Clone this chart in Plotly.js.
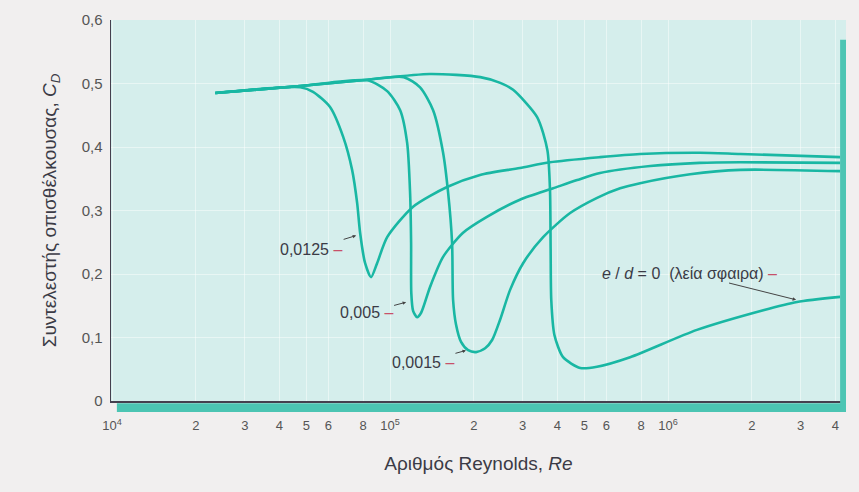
<!DOCTYPE html>
<html>
<head>
<meta charset="utf-8">
<script src="https://cdn.plot.ly/plotly-3.0.1.min.js"></script>
<style>
  html, body { margin: 0; padding: 0; background: #f1efef; }
  #chart { width: 859px; height: 492px; }
</style>
</head>
<body>
<div id="chart"></div>
<script>
// ---- data ----
const reSmooth = [23500, 47500, 82700, 139000, 211000, 249000, 277000, 338000, 368000, 376000, 378000, 380000, 390000, 419000, 483000, 555000, 730000, 1270000, 2200000, 2910000, 4160000];
const cdSmooth = [0.485, 0.496, 0.506, 0.515, 0.510, 0.501, 0.490, 0.447, 0.395, 0.332, 0.238, 0.159, 0.104, 0.069, 0.052, 0.054, 0.069, 0.112, 0.143, 0.156, 0.164];

const re0125 = [23500, 47500, 52800, 60800, 67800, 73000, 76100, 78000, 81300, 85400, 89800, 97600, 121000, 160300, 210700, 293000, 376000, 569000, 793000, 1300000, 1820000, 4160000];
const cd0125 = [0.485, 0.494, 0.487, 0.463, 0.416, 0.364, 0.312, 0.265, 0.217, 0.195, 0.217, 0.258, 0.306, 0.337, 0.356, 0.367, 0.376, 0.384, 0.389, 0.391, 0.389, 0.384];

const re005 = [23500, 47500, 82700, 97600, 108700, 115200, 118000, 119000, 119200, 121000, 125100, 129300, 139300, 155100, 183000, 223000, 293000, 386000, 471000, 569000, 862000, 1300000, 1820000, 4160000];
const cd005 = [0.485, 0.496, 0.505, 0.488, 0.458, 0.406, 0.328, 0.249, 0.170, 0.142, 0.132, 0.139, 0.180, 0.227, 0.265, 0.290, 0.317, 0.335, 0.348, 0.359, 0.370, 0.375, 0.376, 0.375];

const re0015 = [23500, 47500, 82700, 112000, 128200, 142800, 155100, 161700, 167100, 168500, 172700, 180000, 190800, 203900, 219700, 232800, 248700, 270200, 300900, 355200, 444200, 555400, 672000, 793000, 1200000, 1820000, 4160000];
const cd0015 = [0.485, 0.496, 0.506, 0.510, 0.494, 0.458, 0.391, 0.328, 0.249, 0.159, 0.120, 0.093, 0.080, 0.077, 0.083, 0.096, 0.128, 0.175, 0.217, 0.258, 0.296, 0.320, 0.335, 0.343, 0.357, 0.364, 0.362];

const xTickVals = [1e4, 2e4, 3e4, 4e4, 5e4, 6e4, 8e4, 1e5, 2e5, 3e5, 4e5, 5e5, 6e5, 8e5, 1e6, 2e6, 3e6, 4e6];
const xTickText = ['10<sup>4</sup>', '2', '3', '4', '5', '6', '8', '10<sup>5</sup>', '2', '3', '4', '5', '6', '8', '10<sup>6</sup>', '2', '3', '4'];
const yTickVals = [0, 0.1, 0.2, 0.3, 0.4, 0.5, 0.6];
const yTickText = ['0', '0,1', '0,2', '0,3', '0,4', '0,5', '0,6'];

// curve labels and the (Re, CD) point each arrow points at
const labelTexts = ['0,0125', '0,005', '0,0015', '<i>e</i> / <i>d</i> = 0  (λεία σφαιρα)'];
const labelRe = [76100, 115100, 189000, 2910000];
const labelCd = [0.261, 0.156, 0.080, 0.159];

// ---- styles ----
const teal = '#19b7a3';
const lineStyle = { color: teal, width: 2.6, shape: 'spline', smoothing: 0.7 };
const font = 'Liberation Sans, Arial, sans-serif';
const textColor = '#3b3b46';

function mk(x, y, name) {
  return { x: x, y: y, name: name, type: 'scatter', mode: 'lines', line: lineStyle, hoverinfo: 'skip' };
}
const traces = [
  mk(reSmooth, cdSmooth, 'e/d = 0'),
  mk(re0125, cd0125, '0,0125'),
  mk(re005, cd005, '0,005'),
  mk(re0015, cd0015, '0,0015')
];

const offsets = [[-46, 14], [-41, 11], [-44, 12], [-108, -27]];
const dash = ' <span style="color:#c8506a">–</span>';
const annotations = labelTexts.map((t, i) => ({
  x: Math.log10(labelRe[i]), y: labelCd[i], xref: 'x', yref: 'y',
  text: t + dash, showarrow: true, ax: offsets[i][0], ay: offsets[i][1],
  arrowhead: 2, arrowsize: 0.7, arrowwidth: 1, arrowcolor: '#444', standoff: 1,
  font: { family: font, size: 16, color: textColor }
}));

const layout = {
  width: 859, height: 492,
  margin: { l: 111, r: 13, t: 20, b: 91 },
  paper_bgcolor: '#f1efef',
  plot_bgcolor: '#d5eeec',
  showlegend: false,
  font: { family: font, color: textColor },
  xaxis: {
    type: 'log', range: [3.996, 6.64],
    tickvals: xTickVals, ticktext: xTickText,
    tickfont: { size: 13, color: '#555' },
    ticks: '', ticklabelstandoff: 12,
    showgrid: true, gridcolor: 'rgba(255,255,255,0.45)', gridwidth: 1,
    zeroline: false,
    showline: true, linecolor: '#45404f', linewidth: 1.5,
    title: { text: 'Αριθμός Reynolds, <i>Re</i>', font: { size: 19, color: textColor }, standoff: 24 }
  },
  yaxis: {
    range: [0, 0.6],
    tickvals: yTickVals, ticktext: yTickText,
    tickfont: { size: 15, color: '#555' },
    ticks: '', ticklabelstandoff: 4,
    showgrid: true, gridcolor: 'rgba(255,255,255,0.45)', gridwidth: 1,
    zeroline: false,
    showline: true, linecolor: '#45404f', linewidth: 1.5,
    title: { text: 'Συντελεστής οπισθέλκουσας, <i>C</i><sub><i>D</i></sub>', font: { size: 19, color: textColor }, standoff: 20 }
  },
  shapes: [
    { type: 'rect', xref: 'paper', yref: 'paper', x0: 0.008, x1: 1.0, y0: -0.029, y1: -0.006,
      fillcolor: '#4cc5b3', line: { width: 0 }, layer: 'above' },
    { type: 'rect', xref: 'paper', yref: 'paper', x0: 0.992, x1: 1.0, y0: -0.029, y1: 0.948,
      fillcolor: '#4cc5b3', line: { width: 0 }, layer: 'above' }
  ],
  annotations: annotations
};

Plotly.newPlot('chart', traces, layout, { displayModeBar: false, staticPlot: true });
</script>
</body>
</html>
